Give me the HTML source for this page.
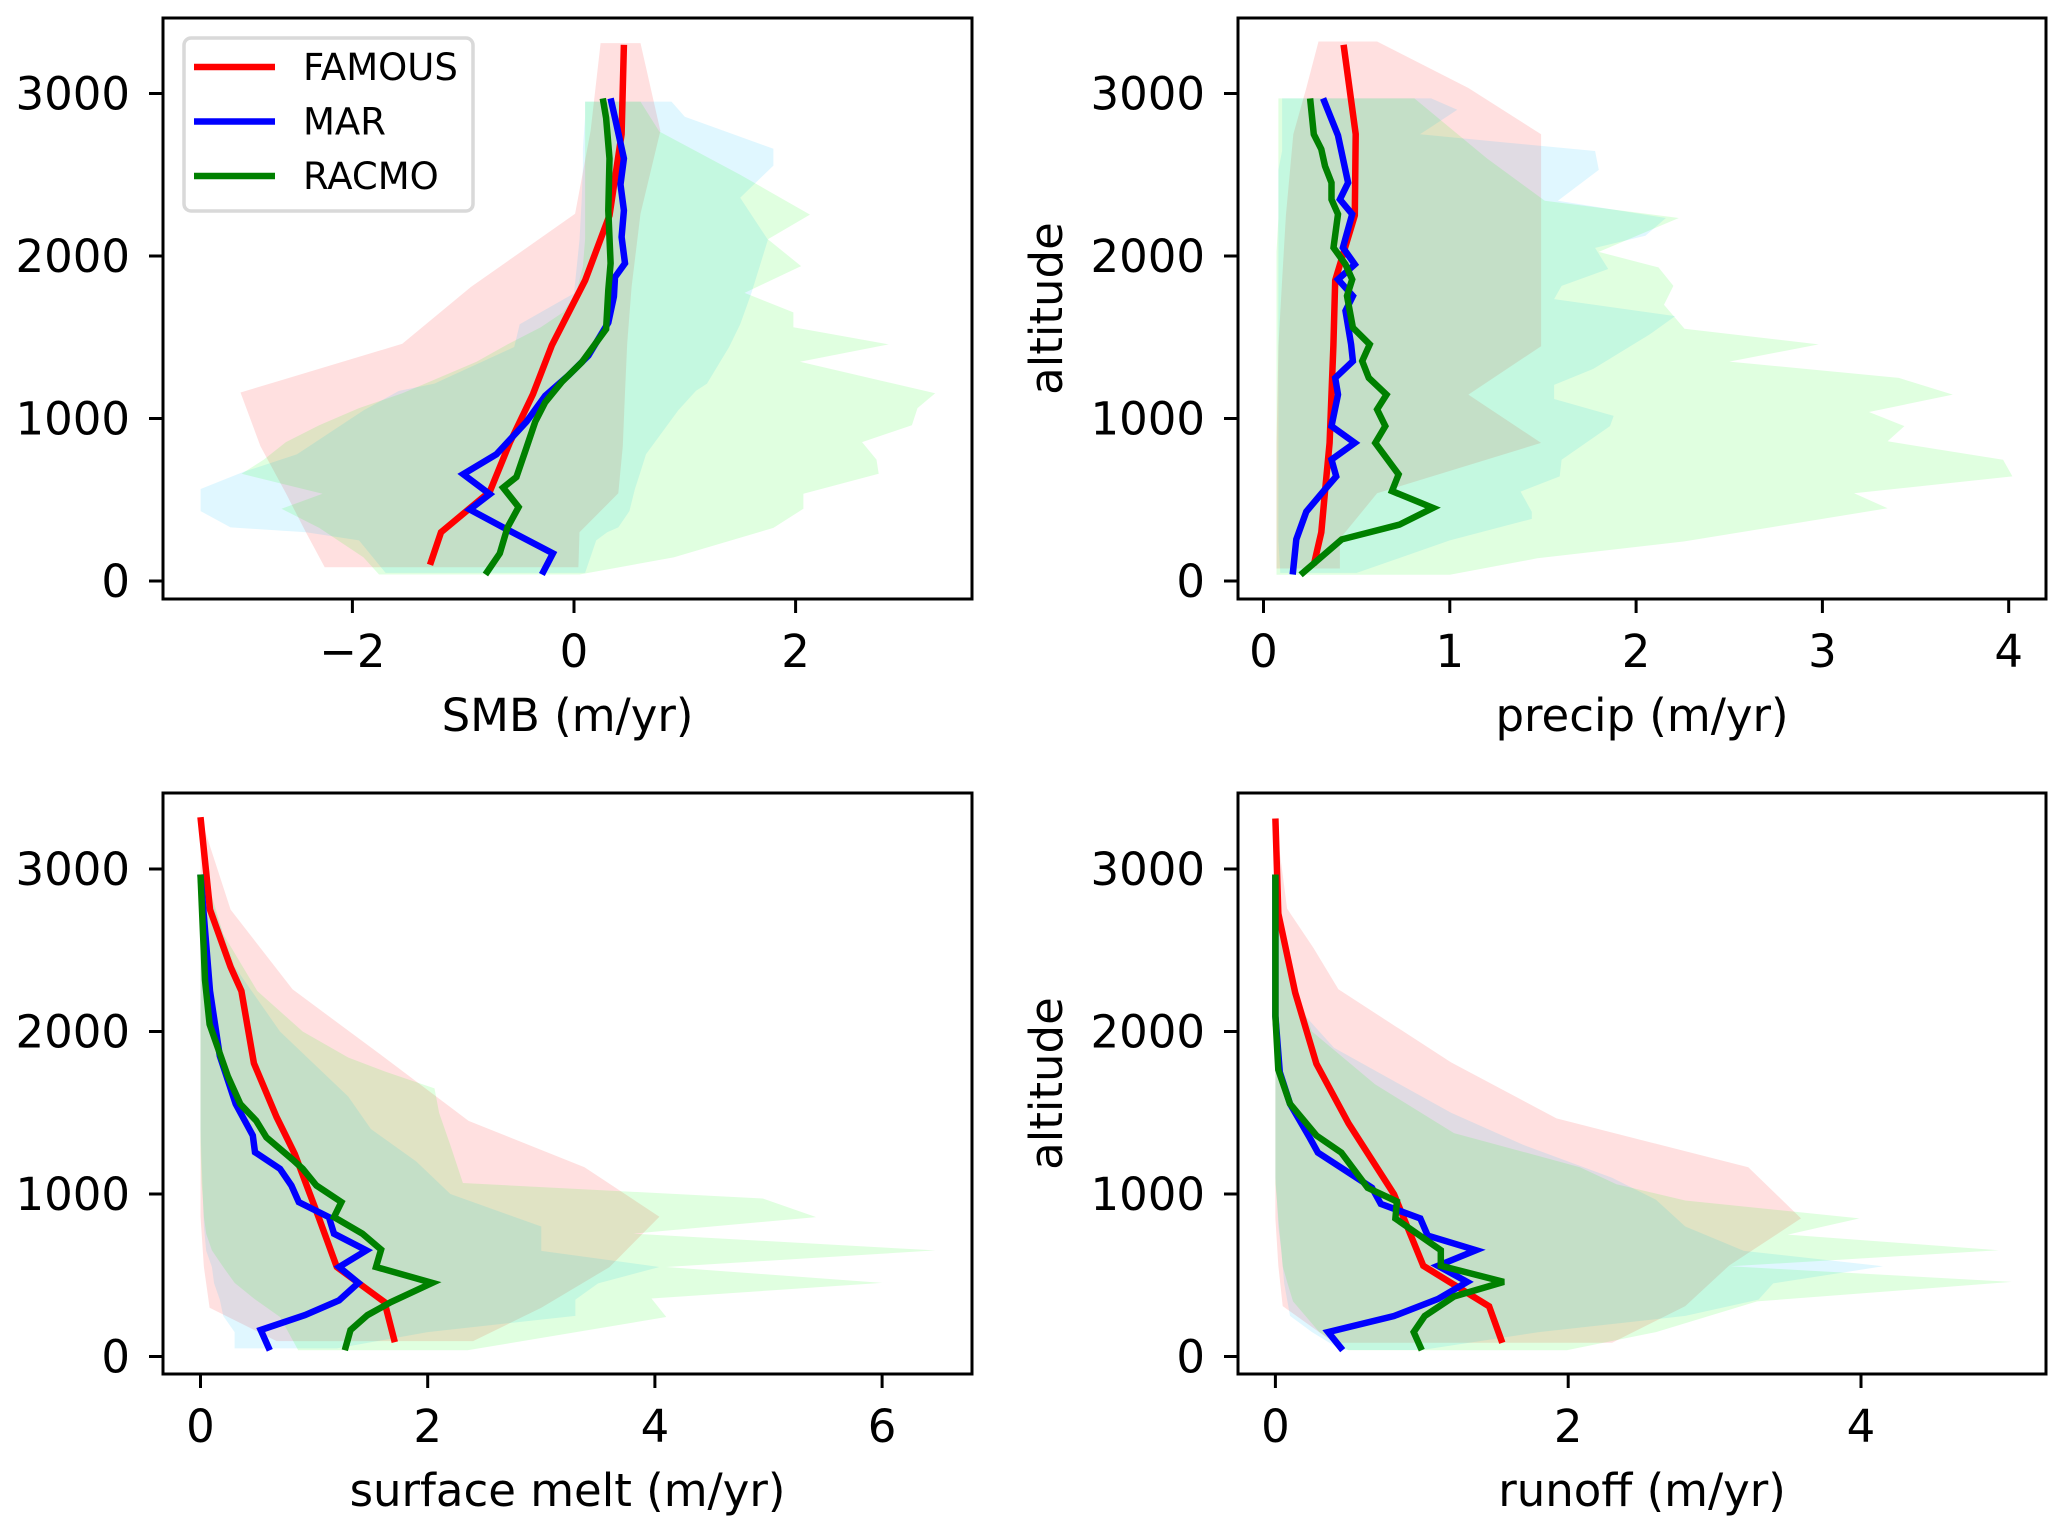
<!DOCTYPE html>
<html><head><meta charset="utf-8"><style>
html,body{margin:0;padding:0;background:#fff;}
svg{display:block;font-family:"DejaVu Sans","Liberation Sans",sans-serif;}
</style></head><body>
<svg id="fig" width="2067" height="1532" viewBox="0 0 2067 1532" xmlns="http://www.w3.org/2000/svg">
<rect width="2067" height="1532" fill="#fff"/>
</svg>
<script>
// ---------- DATA ----------
const FAMOUS_ALT = [100,300,550,850,1150,1450,1850,2250,2750,3300];

// SMB panel
const smbFamous = [-1.3,-1.2,-0.76,-0.58,-0.37,-0.2,0.1,0.32,0.43,0.45];
const smbMarAlt = [40,170,330,440,535,657,780,980,1140,1265,1387,1590,1750,1870,1955,2117,2280,2440,2600,2850,2970];
const smbMar = [-0.29,-0.19,-0.64,-0.94,-0.76,-1.0,-0.7,-0.43,-0.26,-0.05,0.13,0.31,0.36,0.37,0.46,0.43,0.45,0.42,0.45,0.37,0.33];
const smbRacAlt = [40,170,330,455,575,640,820,980,1100,1225,1346,1550,1790,1955,2280,2600,2850,2970];
const smbRac = [-0.8,-0.67,-0.6,-0.5,-0.64,-0.52,-0.43,-0.35,-0.26,-0.11,0.07,0.29,0.31,0.33,0.31,0.32,0.29,0.26];
const smbFamBandAlt = [85,300,540,830,1160,1460,1810,2260,2770,3310];
const smbFamLo = [-2.25,-2.42,-2.6,-2.83,-3.01,-1.55,-0.93,0.01,0.15,0.24];
const smbFamHi = [0.04,0.05,0.40,0.44,0.46,0.48,0.52,0.60,0.78,0.60];
const smbMarBandAlt = [50,250,300,330,430,566,672,780,1050,1170,1215,1440,1580,1770,2100,2359,2556,2660,2857,2950];
const smbMarLo = [-1.7,-1.94,-2.42,-3.1,-3.37,-3.37,-2.98,-2.5,-1.9,-1.58,-1.26,-0.54,-0.49,0.0,0.05,0.07,0.08,0.08,0.1,0.1];
const smbMarHi = [0.1,0.2,0.3,0.4,0.5,0.55,0.6,0.65,0.94,1.1,1.2,1.4,1.5,1.6,1.75,1.5,1.8,1.8,1.0,0.88];
const smbRacBandAlt = [40,145,327,445,537,660,747,855,959,1064,1155,1349,1456,1561,1653,1773,1938,2103,2255,2500,2766,2950];
const smbRacLo = [-1.76,-1.9,-2.3,-2.64,-2.27,-3.0,-2.8,-2.6,-2.3,-1.94,-1.55,-0.88,-0.6,-0.3,-0.1,0.02,0.08,0.1,0.1,0.1,0.1,0.1];
const smbRacHi = [0.05,0.9,1.8,2.07,2.07,2.75,2.73,2.6,3.05,3.1,3.26,2.04,2.84,1.98,1.98,1.54,2.05,1.75,2.13,1.5,0.77,0.6];

// precip panel
const prFamous = [0.27,0.31,0.33,0.355,0.365,0.375,0.385,0.49,0.495,0.43];
const prMarAlt = [40,256,427,564,644,747,850,953,1147,1250,1353,1456,1662,1754,1856,1948,2052,2257,2348,2451,2742,2970];
const prMar = [0.157,0.176,0.23,0.33,0.39,0.365,0.49,0.365,0.40,0.385,0.48,0.47,0.44,0.48,0.40,0.49,0.426,0.476,0.41,0.454,0.40,0.32];
const prRacAlt = [38,256,347,450,553,656,850,953,1056,1147,1250,1353,1456,1559,1754,1856,1948,2052,2257,2348,2451,2554,2657,2749,2970];
const prRac = [0.199,0.42,0.73,0.91,0.69,0.725,0.6,0.654,0.61,0.66,0.565,0.53,0.57,0.48,0.448,0.476,0.44,0.376,0.40,0.365,0.365,0.33,0.31,0.27,0.25];
const prFamBandAlt = [77,260,540,850,1147,1445,1850,2250,2749,3034,3320];
const prFamLo = [0.07,0.07,0.07,0.07,0.075,0.08,0.1,0.12,0.16,0.23,0.295];
const prFamHi = [0.41,0.41,0.61,1.49,1.1,1.49,1.49,1.49,1.49,1.1,0.61];
const prMarBandAlt = [50,250,382,425,550,644,746,953,1016,1120,1207,1305,1515,1630,1735,1816,1920,2050,2125,2234,2340,2530,2646,2749,2900,2970];
const prMarLo = [0.09,0.08,0.08,0.08,0.08,0.08,0.08,0.08,0.08,0.08,0.08,0.08,0.08,0.08,0.08,0.08,0.08,0.08,0.08,0.08,0.08,0.08,0.1,0.1,0.1,0.1];
const prMarHi = [0.5,1.0,1.44,1.44,1.38,1.59,1.6,1.86,1.88,1.56,1.56,1.77,2.07,2.21,1.56,1.6,1.85,1.78,2.05,2.16,1.58,1.8,1.78,0.84,1.04,0.9];
const prRacBandAlt = [38,140,244,448,540,644,746,860,953,1040,1147,1250,1350,1456,1552,1700,1816,1930,2025,2234,2340,2600,2970];
const prRacLo = [0.07,0.07,0.07,0.07,0.07,0.07,0.07,0.07,0.07,0.07,0.07,0.07,0.07,0.07,0.07,0.07,0.07,0.07,0.07,0.08,0.08,0.08,0.08];
const prRacHi = [1.0,1.47,2.26,3.35,3.17,4.02,3.97,3.35,3.44,3.25,3.70,3.41,2.5,2.98,2.26,2.15,2.2,2.12,1.8,2.23,1.51,1.2,0.81];

// surface melt panel
const meFamAlt = [88,335,551,858,1246,1473,1805,2249,2397,2750,3319];
const meFamous = [1.71,1.62,1.20,1.04,0.83,0.67,0.47,0.36,0.265,0.084,0.0];
const meMarAlt = [38,163,255,346,453,551,653,756,858,950,1052,1155,1257,1360,1554,1850,2249,2966];
const meMar = [0.61,0.53,0.92,1.22,1.39,1.22,1.46,1.175,1.13,0.865,0.80,0.70,0.48,0.46,0.31,0.17,0.084,0.0];
const meRacAlt = [38,163,255,334,453,551,658,756,858,950,1052,1155,1212,1349,1451,1554,1725,2044,2317,2966];
const meRac = [1.27,1.32,1.47,1.675,2.04,1.545,1.59,1.425,1.175,1.24,1.02,0.90,0.81,0.58,0.49,0.35,0.24,0.08,0.04,0.0];
const meFamBandAlt = [95,300,550,860,1165,1450,1850,2260,2750,3320];
const meFamLo = [0.67,0.08,0.03,0.0,0.0,0.0,0.0,0.0,0.0,0.0];
const meFamHi = [2.40,3.0,3.6,4.04,3.38,2.36,1.6,0.81,0.265,0.0];
const meMarBandAlt = [50,150,250,350,450,551,650,800,1000,1200,1400,1600,1800,2000,2200,2400,2600,2800,2950];
const meMarLo = [0.3,0.3,0.2,0.17,0.12,0.1,0.05,0.03,0.02,0.01,0,0,0,0,0,0,0,0,0];
const meMarHi = [1.2,2.0,3.3,3.3,3.5,4.04,3.0,3.0,2.2,1.9,1.5,1.3,1.0,0.7,0.5,0.3,0.2,0.1,0.05];
const meRacBandAlt = [38,243,357,453,551,653,756,858,972,1068,1300,1500,1650,1752,1840,2000,2249,2600,2950];
const meRacLo = [0.86,0.7,0.47,0.3,0.2,0.1,0.05,0.03,0.02,0.01,0,0,0,0,0,0,0,0,0];
const meRacHi = [2.35,4.1,3.97,6.0,4.1,6.47,3.81,5.42,4.95,2.31,2.2,2.1,2.06,1.63,1.3,0.9,0.5,0.2,0.05];

// runoff panel
const roFamAlt = [84,309,558,999,1434,1801,2239,2726,3311];
const roFamous = [1.55,1.46,1.01,0.81,0.50,0.28,0.135,0.02,0.0];
const roMarAlt = [39,150,249,354,459,558,654,744,849,939,1038,1255,1345,1555,1750,2095,2966];
const roMar = [0.46,0.36,0.81,1.11,1.31,1.11,1.37,1.04,0.99,0.72,0.66,0.29,0.235,0.10,0.03,0.0,0.0];
const roRacAlt = [39,150,249,369,459,558,654,849,954,1038,1255,1360,1555,1765,2095,2966];
const roRac = [1.0,0.945,1.02,1.22,1.56,1.13,1.13,0.82,0.83,0.63,0.45,0.28,0.10,0.02,0.0,0.0];
const roFamBandAlt = [84,310,560,850,1165,1465,1810,2260,2514,2756,3311];
const roFamLo = [0.4,0.05,0.02,0,0,0,0,0,0,0,0];
const roFamHi = [2.30,2.8,3.1,3.59,3.23,1.92,1.2,0.43,0.26,0.08,0.0];
const roMarBandAlt = [40,150,250,350,450,555,650,800,965,1100,1300,1500,1700,1900,2100,2400,2700,2950];
const roMarLo = [0.45,0.25,0.1,0.08,0.06,0.05,0.04,0.02,0.01,0,0,0,0,0,0,0,0,0];
const roMarHi = [1.0,1.8,2.8,3.3,3.4,4.15,3.2,2.8,2.6,2.3,1.7,1.2,0.8,0.4,0.2,0.08,0.03,0.01];
const roRacBandAlt = [39,150,339,459,555,654,750,850,960,1060,1165,1375,1675,2000,2400,2950];
const roRacLo = [0.5,0.3,0.12,0.08,0.05,0.04,0.03,0.02,0.01,0,0,0,0,0,0,0];
const roRacHi = [1.99,2.6,3.29,5.03,3.11,4.94,3.5,3.99,2.8,2.33,2.08,1.22,0.68,0.25,0.08,0.02];

const yTicks = [0,1000,2000,3000];
const smbTicks = [-2,0,2];
const prTicks = [0,1,2,3,4];
const meTicks = [0,2,4,6];
const roTicks = [0,2,4];
const legendLabels = ["FAMOUS","MAR","RACMO"];

// ---------- DRAWING ----------
const NS = "http://www.w3.org/2000/svg";
const svg = document.getElementById('fig');
function mk(tag, attrs, parent){ const e=document.createElementNS(NS,tag); for(const k in attrs) e.setAttribute(k,attrs[k]); (parent||svg).appendChild(e); return e; }

const COL = {fam:'#ff0000', mar:'#0000ff', rac:'#008000'};
const BAND = {fam:'#ff0000', mar:'#00bfff', rac:'#00ff00'};

function panel(cfg){
  const g = mk('g',{});
  
  
  const L=cfg.left, R=cfg.right, T=cfg.top, B=cfg.bottom;
  const xs = v => cfg.x0 + v*cfg.xs;
  const ys = a => cfg.y0 - a*0.1625;
  const clipId = 'clip-'+cfg.name;
  const cp = mk('clipPath',{id:clipId}, g);
  mk('rect',{x:L,y:T,width:R-L,height:B-T}, cp);
  const plot = mk('g',{'clip-path':'url(#'+clipId+')'}, g);
  cfg.bands.forEach(b=>{
    let pts=[];
    for(let i=0;i<b.alt.length;i++) pts.push(xs(b.lo[i]).toFixed(1)+','+ys(b.alt[i]).toFixed(1));
    for(let i=b.alt.length-1;i>=0;i--) pts.push(xs(b.hi[i]).toFixed(1)+','+ys(b.alt[i]).toFixed(1));
    const p = mk('polygon',{points:pts.join(' '), fill:BAND[b.k], 'fill-opacity':0.12, stroke:'none'}, plot);
    
    
  });
  cfg.lines.forEach(l=>{
    const pts = l.alt.map((a,i)=>xs(l.v[i]).toFixed(1)+','+ys(a).toFixed(1)).join(' ');
    const p = mk('polyline',{points:pts, fill:'none', stroke:COL[l.k], 'stroke-width':6.5, 'stroke-linejoin':'miter','stroke-miterlimit':3}, plot);
    
    
  });
  const fr = mk('rect',{x:L,y:T,width:R-L,height:B-T,fill:'none',stroke:'#000','stroke-width':3}, g);
  
  
  yTicks.forEach(t=>{
    const y=ys(t);
    mk('line',{x1:L-14,x2:L,y1:y,y2:y,stroke:'#000','stroke-width':3}, g);
    const tx = mk('text',{x:L-33,y:y+16,'font-size':45,'text-anchor':'end',fill:'#000'}, g);
    tx.textContent = String(t);
    
    
  });
  cfg.xt.forEach(t=>{
    const x=xs(t);
    mk('line',{x1:x,x2:x,y1:B,y2:B+14,stroke:'#000','stroke-width':3}, g);
    const tx = mk('text',{x:x,y:B+68,'font-size':45,'text-anchor':'middle',fill:'#000'}, g);
    tx.textContent = (t<0?'\u2212':'')+Math.abs(t);
    
    
  });
  const xl = mk('text',{x:(L+R)/2,y:B+132,'font-size':45,'text-anchor':'middle',fill:'#000'}, g);
  xl.textContent = cfg.xlabel;
  
  
  if(cfg.ylabel){
    const cy=(T+B)/2;
    const yl = mk('text',{x:1062,y:cy,'font-size':45,'text-anchor':'middle',fill:'#000',transform:'rotate(-90 1062 '+cy+')'}, g);
    yl.textContent = 'altitude';
    
    
  }
  return g;
}

const topP={top:18,bottom:599,y0:581};
const botP={top:793,bottom:1374,y0:1356.5};

panel({name:'smb-panel',left:163,right:972,...topP,x0:574,xs:110.8,xt:smbTicks,xlabel:'SMB (m/yr)',
  bands:[{k:'fam',alt:smbFamBandAlt,lo:smbFamLo,hi:smbFamHi},{k:'mar',alt:smbMarBandAlt,lo:smbMarLo,hi:smbMarHi},{k:'rac',alt:smbRacBandAlt,lo:smbRacLo,hi:smbRacHi}],
  lines:[{k:'fam',alt:FAMOUS_ALT,v:smbFamous},{k:'mar',alt:smbMarAlt,v:smbMar},{k:'rac',alt:smbRacAlt,v:smbRac}]});
panel({name:'precip-panel',left:1238,right:2046,...topP,x0:1263.5,xs:186.3,xt:prTicks,xlabel:'precip (m/yr)',ylabel:true,
  bands:[{k:'fam',alt:prFamBandAlt,lo:prFamLo,hi:prFamHi},{k:'mar',alt:prMarBandAlt,lo:prMarLo,hi:prMarHi},{k:'rac',alt:prRacBandAlt,lo:prRacLo,hi:prRacHi}],
  lines:[{k:'fam',alt:FAMOUS_ALT,v:prFamous},{k:'mar',alt:prMarAlt,v:prMar},{k:'rac',alt:prRacAlt,v:prRac}]});
panel({name:'melt-panel',left:163,right:972,...botP,x0:200.5,xs:113.6,xt:meTicks,xlabel:'surface melt (m/yr)',
  bands:[{k:'fam',alt:meFamBandAlt,lo:meFamLo,hi:meFamHi},{k:'mar',alt:meMarBandAlt,lo:meMarLo,hi:meMarHi},{k:'rac',alt:meRacBandAlt,lo:meRacLo,hi:meRacHi}],
  lines:[{k:'fam',alt:meFamAlt,v:meFamous},{k:'mar',alt:meMarAlt,v:meMar},{k:'rac',alt:meRacAlt,v:meRac}]});
panel({name:'runoff-panel',left:1238,right:2046,...botP,x0:1275.4,xs:146.4,xt:roTicks,xlabel:'runoff (m/yr)',ylabel:true,
  bands:[{k:'fam',alt:roFamBandAlt,lo:roFamLo,hi:roFamHi},{k:'mar',alt:roMarBandAlt,lo:roMarLo,hi:roMarHi},{k:'rac',alt:roRacBandAlt,lo:roRacLo,hi:roRacHi}],
  lines:[{k:'fam',alt:roFamAlt,v:roFamous},{k:'mar',alt:roMarAlt,v:roMar},{k:'rac',alt:roRacAlt,v:roRac}]});

const lg = mk('g',{});


mk('rect',{x:184,y:38,width:289,height:173,rx:7,fill:'#fff','fill-opacity':0.8,stroke:'#d9d9d9','stroke-width':3.5}, lg);
const lk=['fam','mar','rac'];
legendLabels.forEach((lab,i)=>{
  const y=67+i*54.5;
  const e = mk('g',{}, lg);
  
  
  mk('line',{x1:194,x2:275,y1:y,y2:y,stroke:COL[lk[i]],'stroke-width':6.5}, e);
  const t = mk('text',{x:303,y:y+13,'font-size':37,fill:'#000'}, e);
  t.textContent = lab;
});
</script>
</body></html>
